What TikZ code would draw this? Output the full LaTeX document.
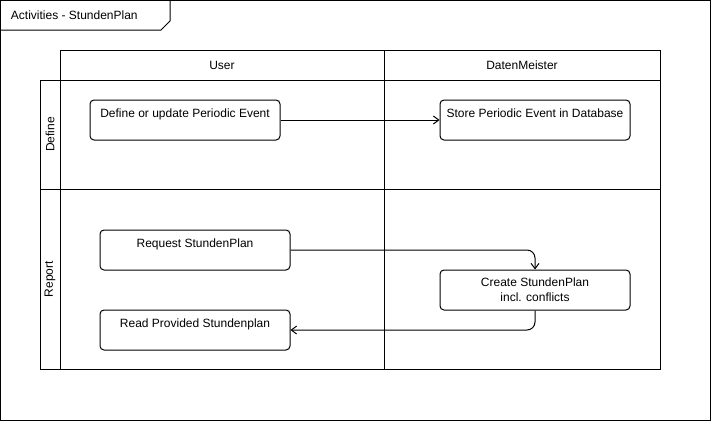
\documentclass[tikz,border=0pt]{standalone}
\usepackage{fontspec}
\setmainfont{Liberation Sans}
\usepackage{tikz}
\usetikzlibrary{arrows.meta}

\tikzset{
    actbox/.style={draw,rounded corners=3pt,minimum width=142.5pt,minimum height=30pt,align=center,inner sep=0pt},
    flow/.style={-{Straight Barb[length=4pt,width=6pt]}},
}

\begin{document}
\begin{tikzpicture}[x=0.75pt,y=-0.75pt,line width=0.75pt,font=\fontsize{9}{11}\selectfont]
        \useasboundingbox (0,0) rectangle (711,421);

        % Draw the frame
        \draw[black] (0.5,0.5) rectangle (710.5,420.5);
        \draw[black]
            (0.5,30)
            -- (161,30)
            -- (170,21)
            -- (170,0.5);
        \node[anchor=west] (title) at (6,15) {Activities - StundenPlan};

        % draw the pool
        \draw[black] (60,50) rectangle (660,369);
        \draw[black] (60,80) -- (660,80);
        \draw[black] (384,50) -- (384,369);
        \draw[black] (40,80) rectangle (660,189);
        \draw[black] (40,189) rectangle (660,369);
        \draw[black] (60,80) -- (60,369);
        \node (user) at (222,65) {User};
        \node (daten) at (522,65) {DatenMeister};
        \node[rotate=90] (define) at (50,134.5) {Define};
        \node[rotate=90] (report) at (50,279) {Report};

        % draw the activities
        \node[actbox] (defev) at (185,120) {Define or update Periodic Event\\~};
        \node[actbox] (store) at (535,120) {Store Periodic Event in Database\\~};
        \node[actbox] (req) at (195,250) {Request StundenPlan\\~};
        \node[actbox] (create) at (535,290) {Create StundenPlan\\incl. conflicts};
        \node[actbox] (read) at (195,330) {Read Provided Stundenplan\\~};

        % draw the flows
        \draw[flow] (defev.east) -- (store.west);
        \draw[flow,rounded corners=6pt] (req.east) -| (create.north);
        \draw[flow,rounded corners=6pt] (create.south) |- (read.east);
    \end{tikzpicture}
\end{document}
